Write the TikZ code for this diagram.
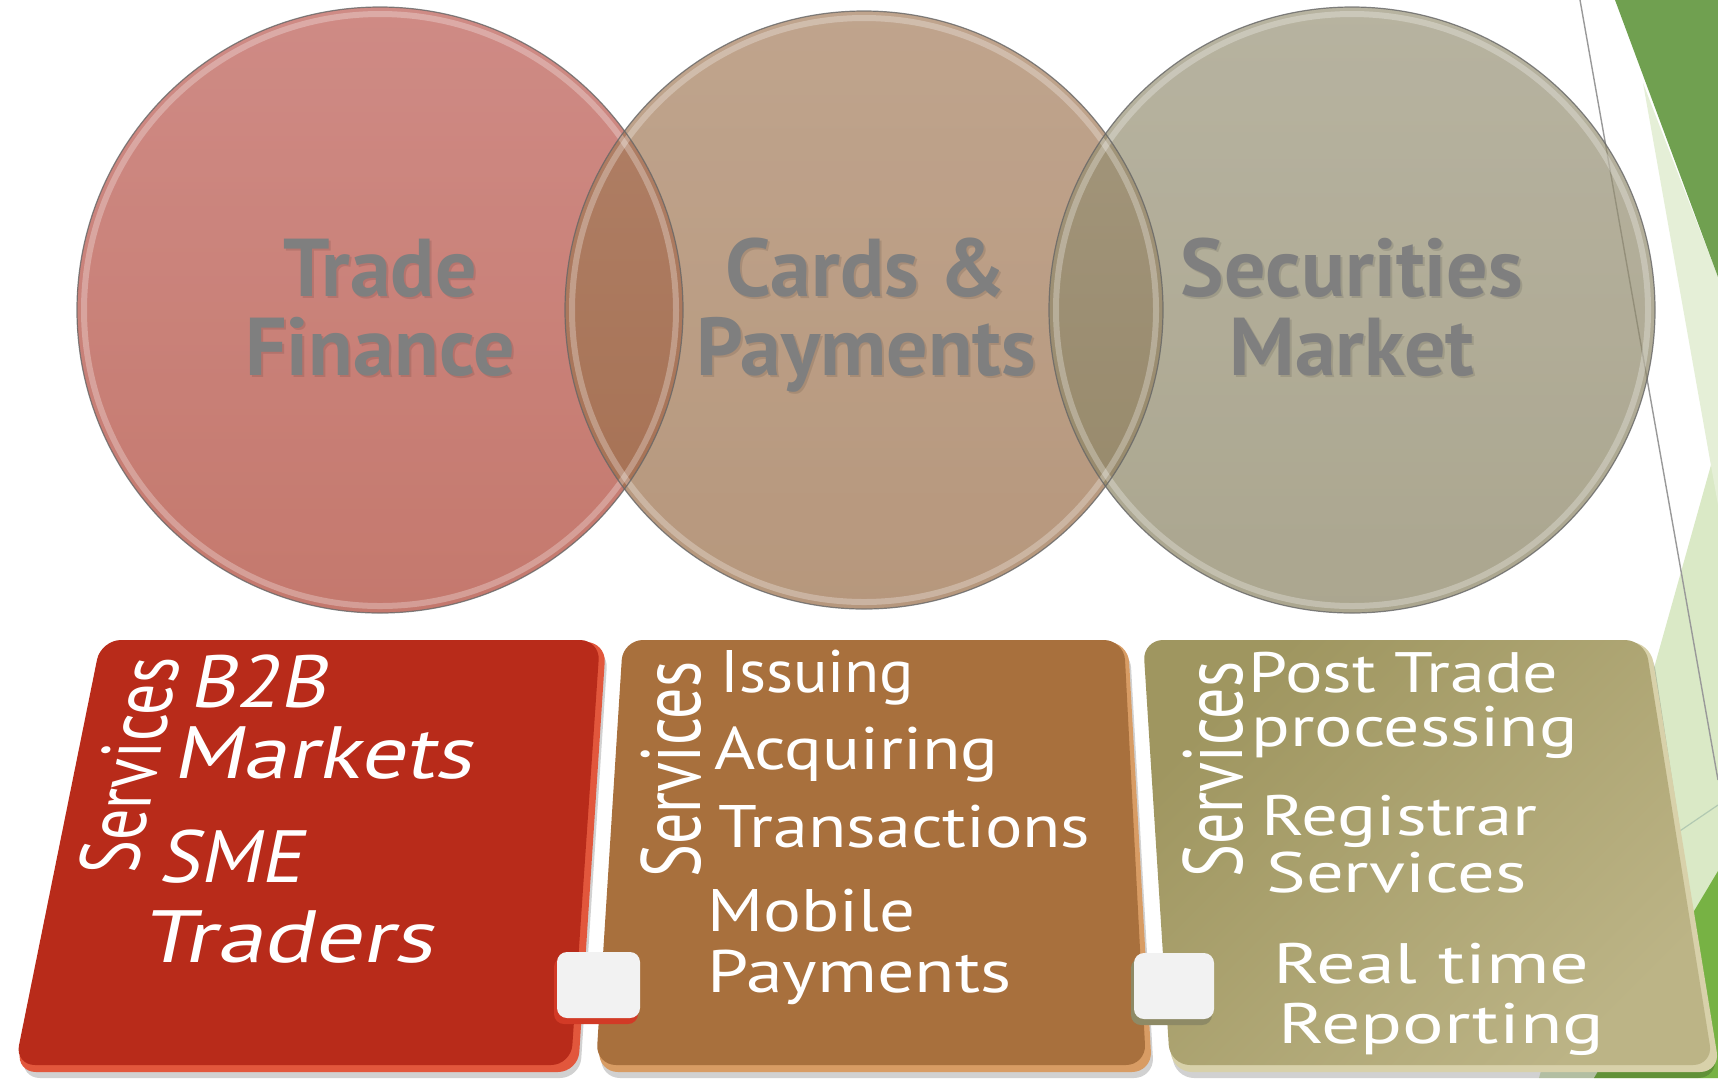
\documentclass[tikz,border=0pt]{standalone}
\usepackage{fontspec}
\usepackage{graphicx}
\newfontfamily\ptsans{PT Sans}
\definecolor{dgreen}{HTML}{70A050}
\definecolor{pgreen}{HTML}{E5EFD7}
\definecolor{lgreen}{HTML}{DAE9C6}
\definecolor{bgreen}{HTML}{77B244}
\definecolor{c1top}{RGB}{187,90,82}
\definecolor{c1bot}{RGB}{172,64,48}
\definecolor{c2top}{RGB}{165,126,93}
\definecolor{c2bot}{RGB}{152,108,70}
\definecolor{c3top}{RGB}{153,147,120}
\definecolor{c3bot}{RGB}{136,129,96}
\definecolor{ctextc}{HTML}{7F7F7F}
\definecolor{b1face}{HTML}{B82B1A}
\definecolor{b1edge}{HTML}{E2573C}
\definecolor{b2face}{HTML}{A8703D}
\definecolor{b2edge}{HTML}{D89C64}
\definecolor{b3left}{HTML}{9F9660}
\definecolor{b3right}{HTML}{BCB486}
\definecolor{b3edge}{HTML}{D8D1AA}
\definecolor{sq1edge}{HTML}{D23A26}
\definecolor{sq2edge}{HTML}{8E8A66}
\tikzset{
  rimdark/.style={draw=black!60,line width=0.6pt,opacity=0.8},
  rimlight/.style={draw=white,line width=3pt,opacity=0.28},
  ctext/.style={text=ctextc,font=\ptsans\bfseries\fontsize{41pt}{42pt}\selectfont,anchor=base,inner sep=0pt},
  cshadow/.style={text=black,opacity=0.1,font=\ptsans\bfseries\fontsize{41pt}{42pt}\selectfont,anchor=base,inner sep=0pt},
  boxshadow/.style={fill=black,opacity=0.18,rounded corners=10pt},
  btext/.style={text=white,anchor=base west,inner sep=0pt,font=\ptsans\fontsize{30pt}{31pt}\selectfont},
  bthree/.style={text=white,anchor=base west,inner sep=0pt,font=\ptsans\fontsize{28.5pt}{29pt}\selectfont},
  bonetext/.style={text=white,anchor=base west,inner sep=0pt,font=\ptsans\fontsize{37pt}{38pt}\selectfont,transform shape},
  svc/.style={text=white,anchor=base west,inner sep=0pt,font=\ptsans\fontsize{42pt}{43pt}\selectfont,transform shape,rotate=90},
  sqface/.style={fill=white!95!black,rounded corners=5pt},
}
\begin{document}
\begin{tikzpicture}[x=0.5pt,y=-0.5pt]
\useasboundingbox (0,0) rectangle (1718,1078);
\fill[white] (0,0) rectangle (1718,1078);

% ---------- right decoration ----------
\fill[lgreen] (1718,440) -- (1539,1078) -- (1718,1078) -- cycle;
\fill[pgreen] (1643,83) -- (1718,505) -- (1718,277) -- cycle;
\fill[bgreen] (1718,871) -- (1594,1078) -- (1718,1078) -- cycle;
\fill[dgreen] (1615,0) -- (1718,0) -- (1718,277) -- cycle;
\coordinate (g1) at (1580,0);
\coordinate (g2) at (1718,780);
\draw[black!40,line width=0.7pt] (g1) -- (g2);
\coordinate (h1) at (1640,858);
\coordinate (h2) at (1718,805);
\draw[green!30!black!30,line width=0.6pt] (h1) -- (h2);

% ---------- circles ----------
\coordinate (c1) at (380,310);
\coordinate (c2) at (864,310);
\coordinate (c3) at (1352,310);
\shade[top color=c1top,bottom color=c1bot,fill opacity=0.7] (c1) circle (303);
\shade[top color=c2top,bottom color=c2bot,fill opacity=0.7] (c2) circle (299);
\shade[top color=c3top,bottom color=c3bot,fill opacity=0.7] (c3) circle (303);
\draw[rimlight] (c1) circle (296);
\draw[rimlight] (c2) circle (292);
\draw[rimlight] (c3) circle (296);
\draw[rimdark] (c1) circle (303);
\draw[rimdark] (c2) circle (299);
\draw[rimdark] (c3) circle (303);

% circle texts (shadow, then text)
\node[cshadow] (t1as) at (382,298) {Trade};
\node[cshadow] (t1bs) at (382,377) {Finance};
\node[cshadow] (t2as) at (868,298) {Cards \&};
\node[cshadow] (t2bs) at (868,377) {Payments};
\node[cshadow] (t3as) at (1354,298) {Securities};
\node[cshadow] (t3bs) at (1354,377) {Market};
\node[ctext] (t1a) at (380,296) {Trade};
\node[ctext] (t1b) at (380,375) {Finance};
\node[ctext] (t2a) at (866,296) {Cards \&};
\node[ctext] (t2b) at (866,375) {Payments};
\node[ctext] (t3a) at (1352,296) {Securities};
\node[ctext] (t3b) at (1352,375) {Market};

% ---------- boxes ----------
% box 1
\fill[boxshadow] (106,648) -- (608,648) -- (580,1078) -- (20,1078) -- cycle;
\fill[b1edge,rounded corners=10pt] (103,642) -- (606,642) -- (578,1072) -- (16,1072) -- cycle;
\fill[b1face,rounded corners=10pt] (101,640) -- (600,640) -- (571,1065) -- (15,1065) -- cycle;
% box 2
\fill[boxshadow] (627,648) -- (1130,648) -- (1154,1078) -- (600,1078) -- cycle;
\fill[b2edge,rounded corners=10pt] (625,642) -- (1128,642) -- (1152,1072) -- (598,1072) -- cycle;
\fill[b2face,rounded corners=10pt] (623,640) -- (1124,640) -- (1146,1065) -- (596,1065) -- cycle;
% box 3
\fill[boxshadow] (1147,648) -- (1652,648) -- (1718,1078) -- (1174,1078) -- cycle;
\fill[b3edge,rounded corners=10pt] (1145,642) -- (1650,642) -- (1720,1072) -- (1172,1072) -- cycle;
\shade[shading=axis,top color=b3left,bottom color=b3right,shading angle=45,rounded corners=10pt] (1143,640) -- (1645,640) -- (1713,1065) -- (1170,1065) -- cycle;

% small squares
\fill[sq1edge,rounded corners=5pt] (554,957) rectangle (638,1024);
\fill[sqface] (557,952) rectangle (640,1018);
\fill[sq2edge,rounded corners=5pt] (1131,958) rectangle (1212,1025);
\fill[sqface] (1134,953) rectangle (1214,1019);

% ---------- box 1 texts (sheared) ----------
\begin{scope}[shift={(136,874)},xslant=0.205]
  \node[svc] (s1) at (0,0) {\resizebox{108pt}{\height}{Services}};
\end{scope}
\begin{scope}[shift={(189,707)},xslant=0.205]
  \node[bonetext] (b1a) at (0,0) {\resizebox{68pt}{\height}{B2B}};
\end{scope}
\begin{scope}[shift={(172,778)},xslant=0.205]
  \node[bonetext] (b1b) at (0,0) {\resizebox{150pt}{\height}{Markets}};
\end{scope}
\begin{scope}[shift={(158,882)},xslant=0.205]
  \node[bonetext] (b1c) at (0,0) {\resizebox{72pt}{\height}{SME}};
\end{scope}
\begin{scope}[shift={(141,962)},xslant=0.205]
  \node[bonetext] (b1d) at (0,0) {\resizebox{146pt}{\height}{Traders}};
\end{scope}

% ---------- box 2 texts ----------
\node[svc] (s2) at (700,878) {\resizebox{108pt}{\height}{Services}};
\node[btext] (b2a) at (720,692) {\resizebox{97pt}{\height}{Issuing}};
\node[btext] (b2b) at (714,769) {\resizebox{142pt}{\height}{Acquiring}};
\node[btext] (b2c) at (718,847) {\resizebox{186pt}{\height}{Transactions}};
\node[btext] (b2d) at (707,931) {\resizebox{104pt}{\height}{Mobile}};
\node[btext] (b2e) at (707,992) {\resizebox{152pt}{\height}{Payments}};

% ---------- box 3 texts ----------
\node[svc] (s3) at (1242,878) {\resizebox{108pt}{\height}{Services}};
\node[bthree] (b3a) at (1248,692) {\resizebox{155pt}{\height}{Post Trade}};
\node[bthree] (b3b) at (1251,746) {\resizebox{163pt}{\height}{processing}};
\node[bthree] (b3c) at (1261,835) {\resizebox{138pt}{\height}{Registrar}};
\node[bthree] (b3d) at (1266,892) {\resizebox{130pt}{\height}{Services}};
\node[bthree] (b3e) at (1273,983) {\resizebox{158pt}{\height}{Real time}};
\node[bthree] (b3f) at (1278,1043) {\resizebox{163pt}{\height}{Reporting}};
\end{tikzpicture}
\end{document}
